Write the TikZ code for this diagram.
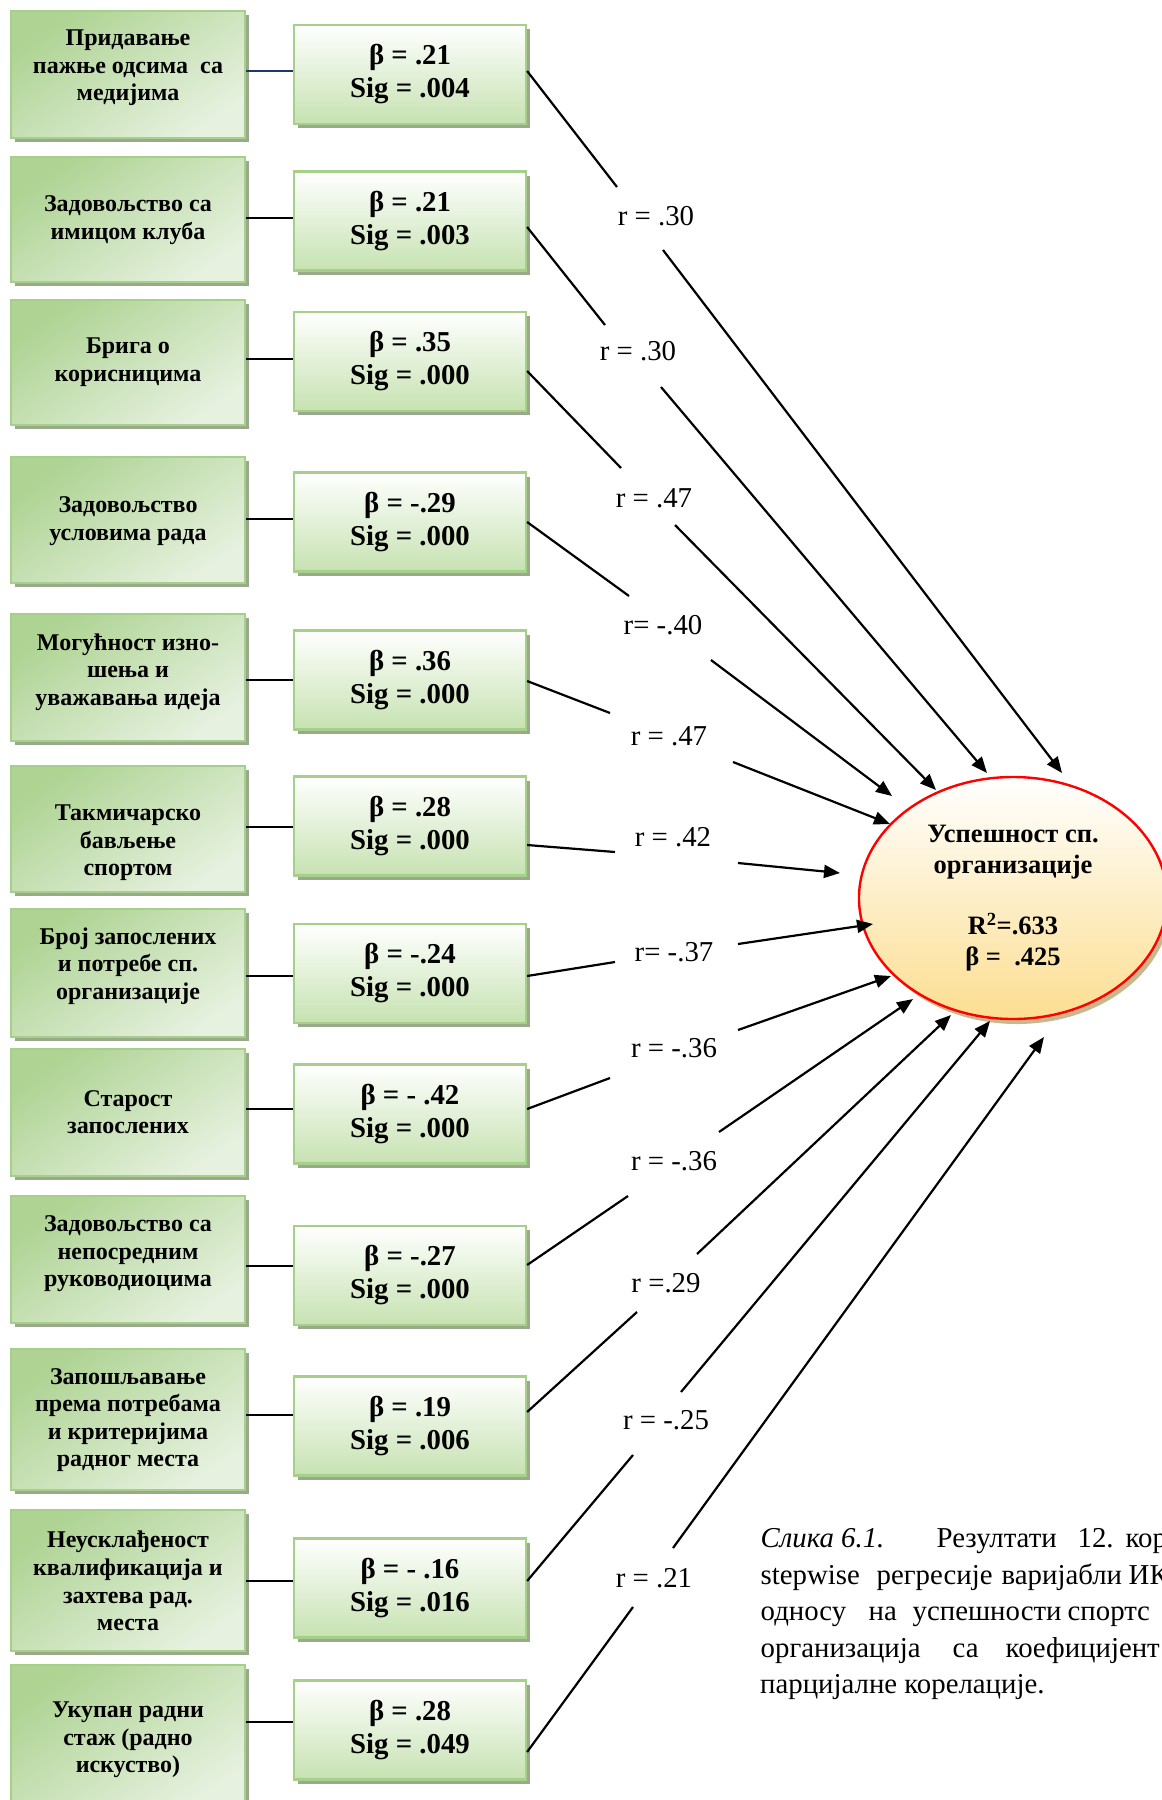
\documentclass[tikz,border=0pt]{standalone}
\usepackage{fontspec}
\setmainfont{Liberation Serif}
\usetikzlibrary{arrows.meta,shapes.geometric,shadows}
\definecolor{bordergreen}{HTML}{A6D08A}
\definecolor{shadowgreen}{HTML}{9AA88C}
\definecolor{lgdark}{HTML}{AED393}
\definecolor{lglight}{HTML}{E6F1DF}
\definecolor{rgbottom}{HTML}{C6E2B1}
\definecolor{ellbottom}{HTML}{FCDE91}
\definecolor{ellshadow}{HTML}{C9B88E}
\definecolor{navyline}{HTML}{1F3864}
\newcommand\wat[2]{\makebox[0pt][l]{\hspace*{#1pt}#2}}
\begin{document}
\begin{tikzpicture}[x=1pt,y=-1pt,
  lbox/.style={draw=bordergreen, line width=2.2pt, minimum width=234pt, inner sep=0pt,
    top color=lgdark, bottom color=lglight, shading angle=35,
    general shadow={fill=shadowgreen, shadow xshift=4pt, shadow yshift=-4pt}},
  ltext/.style={font=\fontsize{24}{27.6}\selectfont\bfseries, align=center, inner sep=0pt},
  rbox/.style={draw=bordergreen, line width=2.2pt, minimum width=232pt, minimum height=99pt, inner sep=0pt,
    top color=white, bottom color=rgbottom,
    general shadow={fill=shadowgreen, shadow xshift=4pt, shadow yshift=-4pt},
    font=\fontsize{28.8}{33}\selectfont\bfseries, align=center},
  rlab/.style={font=\fontsize{28.8}{33}\selectfont, inner sep=0pt},
  conn/.style={line width=2.2pt},
  arr/.style={line width=2.2pt, -{Triangle[length=16pt,width=13pt]}},
  ell/.style={ellipse, draw=red, line width=2.4pt, minimum width=308pt, minimum height=242pt, inner sep=0pt,
    top color=white, bottom color=ellbottom,
    general shadow={fill=ellshadow, shadow xshift=4pt, shadow yshift=-5pt},
    font=\fontsize{26.5}{31}\selectfont\bfseries, align=center},
  captext/.style={font=\fontsize{28.8}{36.6}\selectfont, anchor=base west, inner sep=0pt}
]
\useasboundingbox (0,0) rectangle (1162,1800);
\fill[white] (0,0) rectangle (1162,1800);
\clip (0,0) rectangle (1162,1800);

% ---------- left boxes ----------
\node[lbox, minimum height=127pt] (l1) at (128,74.5) {};
\node[ltext] (l1t) at (128,68) {Придавање\\пажње одсима \ са\\медијима};
\node[lbox, minimum height=125pt] (l2) at (128,219.5) {};
\node[ltext] (l2t) at (128,220) {Задовољство са\\имицом клуба};
\node[lbox, minimum height=125pt] (l3) at (128,362.5) {};
\node[ltext] (l3t) at (128,362) {Брига о\\корисницима};
\node[lbox, minimum height=126pt] (l4) at (128,520) {};
\node[ltext] (l4t) at (128,521) {Задовољство\\условима рада};
\node[lbox, minimum height=127pt] (l5) at (128,677.5) {};
\node[ltext] (l5t) at (128,672) {Могућност изно-\\шења и\\уважавања идеја};
\node[lbox, minimum height=126pt] (l6) at (128,829) {};
\node[ltext] (l6t) at (128,843) {Такмичарско\\бављење\\спортом};
\node[lbox, minimum height=128pt] (l7) at (128,973) {};
\node[ltext] (l7t) at (128,966) {Број запослених\\и потребе сп.\\организације};
\node[lbox, minimum height=127pt] (l8) at (128,1112.5) {};
\node[ltext] (l8t) at (128,1112) {Старост\\запослених};
\node[lbox, minimum height=127pt] (l9) at (128,1259.5) {};
\node[ltext] (l9t) at (128,1254) {Задовољство са\\непосредним\\руководиоцима};
\node[lbox, minimum height=141pt] (l10) at (128,1419.5) {};
\node[ltext] (l10t) at (128,1420) {Запошљавање\\према потребама\\и критеријима\\радног места};
\node[lbox, minimum height=141pt] (l11) at (128,1580.5) {};
\node[ltext] (l11t) at (128,1581) {Неусклађеност\\квалификација и\\захтева рад.\\места};
\node[lbox, minimum height=145pt] (l12) at (128,1737.5) {};
\node[ltext] (l12t) at (128,1740) {Укупан радни\\стаж (радно\\искуство)};

% ---------- right boxes ----------
\node[rbox] (r1) at (410,74.5) {β = .21\\Sig = .004};
\node[rbox] (r2) at (410,221) {β = .21\\Sig = .003};
\node[rbox] (r3) at (410,361.5) {β = .35\\Sig = .000};
\node[rbox] (r4) at (410,522) {β = -.29\\Sig = .000};
\node[rbox] (r5) at (410,680) {β = .36\\Sig = .000};
\node[rbox] (r6) at (410,826) {β = .28\\Sig = .000};
\node[rbox] (r7) at (410,973.5) {β = -.24\\Sig = .000};
\node[rbox] (r8) at (410,1114) {β = - .42\\Sig = .000};
\node[rbox] (r9) at (410,1275.5) {β = -.27\\Sig = .000};
\node[rbox] (r10) at (410,1426) {β = .19\\Sig = .006};
\node[rbox] (r11) at (410,1588) {β = - .16\\Sig = .016};
\node[rbox] (r12) at (410,1730) {β = .28\\Sig = .049};

% ---------- left-right connectors ----------
\coordinate (h1) at (0,71);   \coordinate (h2) at (0,218);  \coordinate (h3) at (0,359);
\coordinate (h4) at (0,519);  \coordinate (h5) at (0,680);  \coordinate (h6) at (0,827);
\coordinate (h7) at (0,976);  \coordinate (h8) at (0,1109); \coordinate (h9) at (0,1266);
\coordinate (h10) at (0,1415);\coordinate (h11) at (0,1581);\coordinate (h12) at (0,1722);
\draw[conn, navyline] (l1.east |- h1) -- (r1.west |- h1);
\draw[conn] (l2.east |- h2) -- (r2.west |- h2);
\draw[conn] (l3.east |- h3) -- (r3.west |- h3);
\draw[conn] (l4.east |- h4) -- (r4.west |- h4);
\draw[conn] (l5.east |- h5) -- (r5.west |- h5);
\draw[conn] (l6.east |- h6) -- (r6.west |- h6);
\draw[conn] (l7.east |- h7) -- (r7.west |- h7);
\draw[conn] (l8.east |- h8) -- (r8.west |- h8);
\draw[conn] (l9.east |- h9) -- (r9.west |- h9);
\draw[conn] (l10.east |- h10) -- (r10.west |- h10);
\draw[conn] (l11.east |- h11) -- (r11.west |- h11);
\draw[conn] (l12.east |- h12) -- (r12.west |- h12);

% ---------- target ellipse ----------
\node[ell] (E) at (1013,898) {Успешност сп.\\организације\\[30pt]R\textsuperscript{2}=.633\\β = \ .425};

% ---------- r labels ----------
\node[rlab] (L1) at (656,216) {r = .30};
\node[rlab] (L2) at (638,351) {r = .30};
\node[rlab] (L3) at (654,498) {r = .47};
\node[rlab] (L4) at (663,625) {r= -.40};
\node[rlab] (L5) at (669,736) {r = .47};
\node[rlab] (L6) at (673,837) {r = .42};
\node[rlab] (L7) at (674,952) {r= -.37};
\node[rlab] (L8) at (674,1048) {r = -.36};
\node[rlab] (L9) at (674,1161) {r = -.36};
\node[rlab] (L10) at (666,1283) {r =.29};
\node[rlab] (L11) at (666,1420) {r = -.25};
\node[rlab] (L12) at (654,1578) {r = .21};

% ---------- connector break points ----------
\coordinate (s1) at (0,71);    \coordinate (a1) at (617,187);  \coordinate (b1) at (663,250);  \coordinate (t1) at (1062,773);
\coordinate (s2) at (0,227);   \coordinate (a2) at (605,325);  \coordinate (b2) at (661,387);  \coordinate (t2) at (987,773);
\coordinate (s3) at (0,371);   \coordinate (a3) at (621,468);  \coordinate (b3) at (675,525);  \coordinate (t3) at (936,790);
\coordinate (s4) at (0,522);   \coordinate (a4) at (629,596);  \coordinate (b4) at (711,660);  \coordinate (t4) at (892,796);
\coordinate (s5) at (0,681);   \coordinate (a5) at (610,713);  \coordinate (b5) at (733,762);  \coordinate (t5) at (890,824);
\coordinate (s6) at (0,845);   \coordinate (a6) at (615,852);  \coordinate (b6) at (738,863);  \coordinate (t6) at (840,873);
\coordinate (s7) at (0,976);   \coordinate (a7) at (615,962);  \coordinate (b7) at (738,944);  \coordinate (t7) at (873,924);
\coordinate (s8) at (0,1109);  \coordinate (a8) at (610,1078); \coordinate (b8) at (738,1030); \coordinate (t8) at (891,976);
\coordinate (s9) at (0,1265);  \coordinate (a9) at (628,1196); \coordinate (b9) at (719,1132); \coordinate (t9) at (913,999);
\coordinate (s10) at (0,1412); \coordinate (a10) at (637,1312);\coordinate (b10) at (697,1254);\coordinate (t10) at (951,1015);
\coordinate (s11) at (0,1581); \coordinate (a11) at (633,1455);\coordinate (b11) at (681,1392);\coordinate (t11) at (990,1021);
\coordinate (s12) at (0,1752); \coordinate (a12) at (633,1607);\coordinate (b12) at (673,1548);\coordinate (t12) at (1044,1037);

\draw[conn] (r1.east |- s1) -- (a1);   \draw[arr] (b1) -- (t1);
\draw[conn] (r2.east |- s2) -- (a2);   \draw[arr] (b2) -- (t2);
\draw[conn] (r3.east |- s3) -- (a3);   \draw[arr] (b3) -- (t3);
\draw[conn] (r4.east |- s4) -- (a4);   \draw[arr] (b4) -- (t4);
\draw[conn] (r5.east |- s5) -- (a5);   \draw[arr] (b5) -- (t5);
\draw[conn] (r6.east |- s6) -- (a6);   \draw[arr] (b6) -- (t6);
\draw[conn] (r7.east |- s7) -- (a7);   \draw[arr] (b7) -- (t7);
\draw[conn] (r8.east |- s8) -- (a8);   \draw[arr] (b8) -- (t8);
\draw[conn] (r9.east |- s9) -- (a9);   \draw[arr] (b9) -- (t9);
\draw[conn] (r10.east |- s10) -- (a10);\draw[arr] (b10) -- (t10);
\draw[conn] (r11.east |- s11) -- (a11);\draw[arr] (b11) -- (t11);
\draw[conn] (r12.east |- s12) -- (a12);\draw[arr] (b12) -- (t12);

% ---------- caption ----------
\node[captext] (c1) at (760,1547) {\wat{0}{\textit{Слика 6.1.}}\wat{176}{Резултати}\wat{317}{12.}\wat{365}{кор}};
\node[captext] (c2) at (760,1584) {\wat{0}{stepwise}\wat{116}{регресије}\wat{241}{варијабли}\wat{368}{ИК}};
\node[captext] (c3) at (760,1620) {\wat{0}{односу}\wat{108}{на}\wat{152}{успешности}\wat{307}{спортс}};
\node[captext] (c4) at (760,1657) {\wat{0}{организација}\wat{192}{са}\wat{245}{коефицијент}};
\node[captext] (c5) at (760,1693) {парцијалне корелације.};
\end{tikzpicture}
\end{document}
